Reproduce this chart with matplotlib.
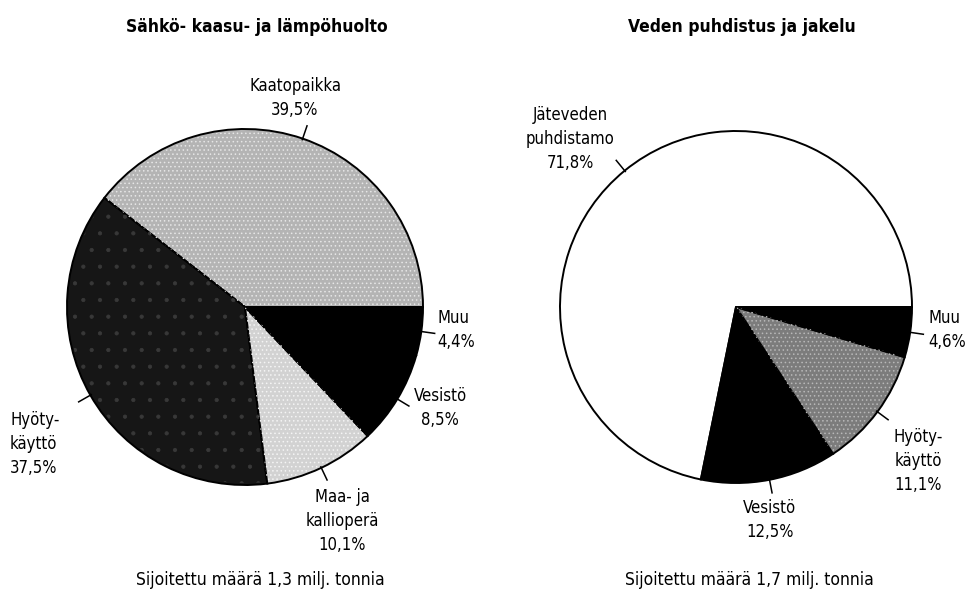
import numpy as np
import matplotlib
matplotlib.use("Agg")
import matplotlib.pyplot as plt
from matplotlib import font_manager

# a narrow face fits the look of the original best; fall back if missing
cond = [f.fname for f in font_manager.fontManager.ttflist
        if f.name == 'DejaVu Sans' and f.stretch == 'condensed']
plt.rcParams['font.family'] = ['DejaVu Sans']
STRETCH = 'condensed' if cond else 'normal'
plt.rcParams['hatch.linewidth'] = 0.6

# --- data -----------------------------------------------------------------
titles = ["Sähkö- kaasu- ja lämpöhuolto", "Veden puhdistus ja jakelu"]
captions = ["Sijoitettu määrä 1,3 milj. tonnia", "Sijoitettu määrä 1,7 milj. tonnia"]

energy_labels = ["Kaatopaikka", "Hyöty-\nkäyttö", "Maa- ja\nkallioperä", "Vesistö", "Muu"]
energy_values = [39.5, 37.5, 10.1, 8.5, 4.4]

water_labels = ["Jäteveden\npuhdistamo", "Vesistö", "Hyöty-\nkäyttö", "Muu"]
water_values = [71.8, 12.5, 11.1, 4.6]

# --- styles / layout ------------------------------------------------------
energy_colors = ['#b4b4b4', '#161616', '#d2d2d2', '#000000', '#000000']
energy_hatch = ['....', '.', '....', None, None]
energy_hatch_col = ['#e6e6e6', '#383838', '#f4f4f4', None, None]
# label positions (in pie radius units) and alignment
energy_pos = [(0.281, 1.174, 'center'), (-1.320, -0.770, 'left'),
              (0.545, -1.202, 'center'), (1.096, -0.567, 'center'),
              (1.079, -0.129, 'left')]

water_colors = ['#ffffff', '#000000', '#7c7c7c', '#000000']
water_hatch = [None, None, '....', None]
water_hatch_col = [None, None, '#b8b8b8', None]
water_pos = [(-0.943, 0.955, 'center'), (0.193, -1.210, 'center'),
             (1.034, -0.875, 'center'), (1.091, -0.131, 'left')]

W, H = 974, 607
fig = plt.figure(figsize=(W / 100, H / 100), dpi=100)

def make_axes(x0, x1, cx, cy, r):
    ax = fig.add_axes([x0 / W, 0, (x1 - x0) / W, 1])
    lc = cx - x0
    lims = ((-lc / r, (x1 - x0 - lc) / r), (-(H - cy) / r, cy / r))
    return ax, lims

def draw_pie(ax, values, labels, colors, hatches, hcols, positions):
    ax.pie(values, colors=colors, startangle=0, counterclock=True,
           radius=1, center=(0, 0), frame=True,
           wedgeprops=dict(edgecolor='black', linewidth=1.4))
    # stipple overlay
    wedges, _ = ax.pie(values, colors=['none'] * len(values), startangle=0,
                       radius=0.99, center=(0, 0), frame=True,
                       wedgeprops=dict(linewidth=0))
    for w, h, hc in zip(wedges, hatches, hcols):
        if h:
            w.set_hatch(h)
            w.set_edgecolor(hc)
    # leader lines and labels
    total = sum(values)
    cum = np.cumsum([0] + list(values))
    for i, (lab, v) in enumerate(zip(labels, values)):
        mid = np.deg2rad(360 * (cum[i] + v / 2) / total)
        ax.plot([0.99 * np.cos(mid), 1.08 * np.cos(mid)],
                [0.99 * np.sin(mid), 1.08 * np.sin(mid)],
                color='black', lw=1.1, solid_capstyle='butt')
        px, py, ha = positions[i]
        txt = lab + "\n" + f"{v:.1f}".replace('.', ',') + "%"
        ax.text(px, py, txt, ha=ha, va='center', multialignment=ha,
                fontsize=12, fontstretch=STRETCH, linespacing=1.45,
                color='black')

for (x0, x1, cx, r), vals, labs, cols, hat, hcol, pos in [
        ((0, 487, 245, 178), energy_values, energy_labels, energy_colors,
         energy_hatch, energy_hatch_col, energy_pos),
        ((487, 974, 736, 176), water_values, water_labels, water_colors,
         water_hatch, water_hatch_col, water_pos)]:
    ax, lims = make_axes(x0, x1, cx, 307, r)
    draw_pie(ax, vals, labs, cols, hat, hcol, pos)
    ax.set_xlim(lims[0])
    ax.set_ylim(lims[1])
    ax.set_aspect('auto')
    ax.axis('off')

for x, t in zip([257, 742], titles):
    fig.text(x / W, 1 - 27 / H, t, ha='center', va='center',
             fontsize=12.5, fontweight='bold', fontstretch=STRETCH)
for x, t in zip([260, 749], captions):
    fig.text(x / W, 1 - 580 / H, t, ha='center', va='center',
             fontsize=12.5, fontstretch=STRETCH)

fig.savefig("out.png", dpi=100, facecolor='white')
